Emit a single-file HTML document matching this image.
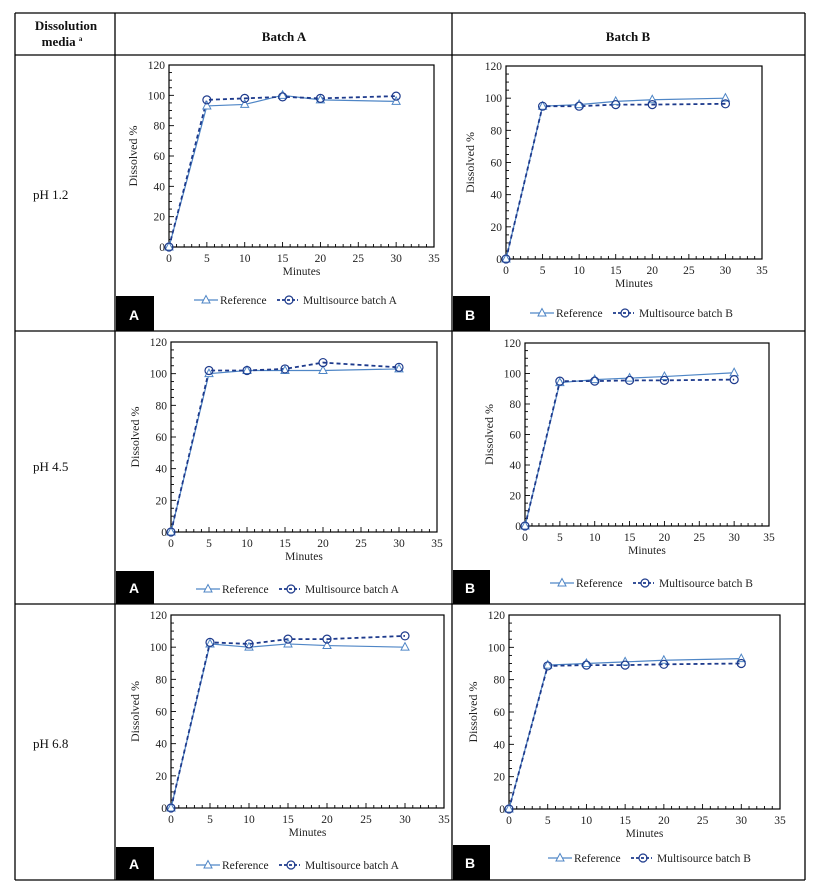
<!DOCTYPE html>
<html><head><meta charset="utf-8"><style>
body{margin:0;background:#fff;}
svg{display:block;font-family:"Liberation Serif",serif;}
</style></head><body>
<svg id="s" width="817" height="893" xmlns="http://www.w3.org/2000/svg">
<g stroke="#000" stroke-width="1.3" fill="none">
<line x1="15" y1="13" x2="805" y2="13"/>
<line x1="15" y1="55" x2="805" y2="55"/>
<line x1="15" y1="331" x2="805" y2="331"/>
<line x1="15" y1="604" x2="805" y2="604"/>
<line x1="15" y1="880" x2="805" y2="880"/>
<line x1="15" y1="13" x2="15" y2="880"/>
<line x1="115" y1="13" x2="115" y2="880"/>
<line x1="452" y1="13" x2="452" y2="880"/>
<line x1="805" y1="13" x2="805" y2="880"/>
</g>
<g font-weight="bold" font-size="13" fill="#111" text-anchor="middle">
<text x="66" y="30">Dissolution</text>
<text x="62" y="46">media <tspan font-size="7" dy="-5">a</tspan></text>
<text x="284" y="41">Batch A</text>
<text x="628" y="41">Batch B</text>
</g>
<g font-size="13" fill="#111">
<text x="33" y="199">pH 1.2</text>
<text x="33" y="471">pH 4.5</text>
<text x="33" y="748">pH 6.8</text>
</g>
<g fill="#000">
<rect x="116" y="296" width="38" height="35"/>
<rect x="453" y="296" width="37" height="35"/>
<rect x="116" y="571" width="38" height="33"/>
<rect x="453" y="570" width="37" height="34"/>
<rect x="116" y="847" width="38" height="33"/>
<rect x="453" y="845" width="37" height="35"/>
</g>
<g fill="#fff" font-family="Liberation Sans,sans-serif" font-weight="bold" font-size="14" text-anchor="middle">
<text x="134" y="320">A</text><text x="470" y="320">B</text>
<text x="134" y="593">A</text><text x="470" y="593">B</text>
<text x="134" y="869">A</text><text x="470" y="868">B</text>
</g>
<g id="charts"></g>
</svg>
<script>
var NS="http://www.w3.org/2000/svg";
var G=document.getElementById("charts");
function el(t,a,txt){var e=document.createElementNS(NS,t);for(var k in a)e.setAttribute(k,a[k]);if(txt!==undefined)e.textContent=txt;G.appendChild(e);return e;}
var X=[0,5,10,15,20,30];
var C=[
{l:169,r:434,t:65,b:247,ly:300,lx:194,name:"Multisource batch A",ref:[0,93,94,100,97,96],m:[0,97,98,99,98,99.5]},
{l:506,r:762,t:66,b:259,ly:313,lx:530,name:"Multisource batch  B",ref:[0,95,96,98,99,100],m:[0,95,95,96,96,96.5]},
{l:171,r:437,t:342,b:532,ly:589,lx:196,name:"Multisource batch A",ref:[0,100,102,102,102,103],m:[0,102,102,103,107,104]},
{l:525,r:769,t:343,b:526,ly:583,lx:550,name:"Multisource batch  B",ref:[0,94,96,97,98,100.5],m:[0,95,95,95.5,95.5,96]},
{l:171,r:444,t:615,b:808,ly:865,lx:196,name:"Multisource batch A",ref:[0,102,100,102,101,100],m:[0,103,102,105,105,107]},
{l:509,r:780,t:615,b:809,ly:858,lx:548,name:"Multisource batch B",ref:[0,89,90,91,92,93],m:[0,88.5,89,89,89.5,90]}
];
var RC="#4f86c6",MC="#1d3a8c";
C.forEach(function(c){
 var sx=function(v){return c.l+(c.r-c.l)*v/35;}, sy=function(v){return c.b-(c.b-c.t)*v/120;};
 el("rect",{x:c.l,y:c.t,width:c.r-c.l,height:c.b-c.t,fill:"none",stroke:"#000","stroke-width":1.2});
 for(var i=0;i<=35;i++){var x=sx(i);el("line",{x1:x,x2:x,y1:c.b,y2:c.b-(i%5==0?5:3),stroke:"#000","stroke-width":0.9});}
 for(var j=0;j<=120;j+=5){var y=sy(j);el("line",{x1:c.l,x2:c.l+(j%20==0?5:3),y1:y,y2:y,stroke:"#000","stroke-width":0.9});}
 for(var i=0;i<=35;i+=5)el("text",{x:sx(i),y:c.b+15,"font-size":11.5,"text-anchor":"middle",fill:"#222"},i);
 for(var j=0;j<=120;j+=20)el("text",{x:c.l-4,y:sy(j)+4,"font-size":11.5,"text-anchor":"end",fill:"#222"},j);
 el("text",{x:(c.l+c.r)/2,y:c.b+28,"font-size":11.5,"text-anchor":"middle",fill:"#222"},"Minutes");
 var cy=(c.t+c.b)/2,ax=c.l-32;
 el("text",{x:ax,y:cy,"font-size":12,"text-anchor":"middle",fill:"#222",transform:"rotate(-90 "+ax+" "+cy+")"},"Dissolved %");
 var p1=X.map(function(v,k){return sx(v)+","+sy(c.ref[k]);}).join(" ");
 var p2=X.map(function(v,k){return sx(v)+","+sy(c.m[k]);}).join(" ");
 el("polyline",{points:p1,fill:"none",stroke:RC,"stroke-width":1.2});
 el("polyline",{points:p2,fill:"none",stroke:MC,"stroke-width":1.8,"stroke-dasharray":"4,3"});
 function tri(x,y,col){el("polygon",{points:(x)+","+(y-4.5)+" "+(x-4)+","+(y+3)+" "+(x+4)+","+(y+3),fill:"#fff",stroke:col,"stroke-width":1});}
 function cir(x,y,col){el("circle",{cx:x,cy:y,r:4,fill:"none",stroke:col,"stroke-width":1.2});}
 X.forEach(function(v,k){tri(sx(v),sy(c.ref[k]),RC);cir(sx(v),sy(c.m[k]),MC);});
 var lx=c.lx,ly=c.ly;
 el("line",{x1:lx,x2:lx+24,y1:ly,y2:ly,stroke:RC,"stroke-width":1.2});tri(lx+12,ly,RC);
 el("text",{x:lx+26,y:ly+4,"font-size":11.5,fill:"#222"},"Reference");
 el("line",{x1:lx+83,x2:lx+104,y1:ly,y2:ly,stroke:MC,"stroke-width":1.8,"stroke-dasharray":"3,2"});cir(lx+95,ly,MC);
 el("text",{x:lx+109,y:ly+4,"font-size":11.5,fill:"#222"},c.name);
});
</script>
</body></html>
